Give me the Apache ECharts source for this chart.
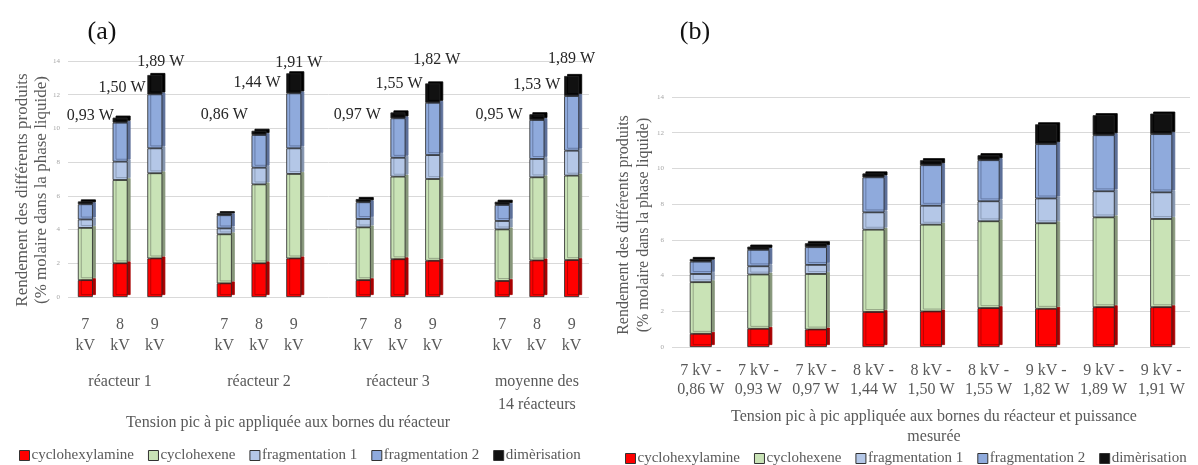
<!DOCTYPE html>
<html>
<head>
<meta charset="utf-8">
<script src="https://cdn.jsdelivr.net/npm/echarts@6/dist/echarts.min.js"></script>
<style>
html, body { margin: 0; padding: 0; background: #fff; }
#wrap { position: relative; width: 1198px; height: 465px; }
#chartA { position: absolute; left: 0; top: 0; width: 598px; height: 465px; }
#chartB { position: absolute; left: 598px; top: 0; width: 600px; height: 465px; }
</style>
</head>
<body>
<div id="wrap"><div id="chartA"></div><div id="chartB"></div></div>
<script>
var produits = ['cyclohexylamine', 'cyclohexene', 'fragmentation 1', 'fragmentation 2', 'dimèrisation'];

// (a) 4 groupes de 3 tensions, une case vide entre les groupes
var kvA = ['7\nkV', '8\nkV', '9\nkV', '', '7\nkV', '8\nkV', '9\nkV', '', '7\nkV', '8\nkV', '9\nkV', '', '7\nkV', '8\nkV', '9\nkV'];
var groupesA = ['', 'réacteur 1', '', '', '', 'réacteur 2', '', '', '', 'réacteur 3', '', '', '', 'moyenne des\n14 réacteurs', ''];
var amineA = [1.00, 2.00, 2.29, '-', 0.81, 2.00, 2.29, '-', 1.00, 2.24, 2.15, '-', 0.95, 2.17, 2.19];
var hexeneA = [3.10, 4.94, 5.05, '-', 2.91, 4.68, 5.01, '-', 3.13, 4.90, 4.85, '-', 3.06, 4.93, 5.01];
var frag1A = [0.50, 1.09, 1.48, '-', 0.35, 0.99, 1.52, '-', 0.50, 1.12, 1.42, '-', 0.50, 1.09, 1.48];
var frag2A = [0.90, 2.31, 3.20, '-', 0.78, 1.94, 3.26, '-', 0.99, 2.34, 3.10, '-', 0.95, 2.31, 3.24];
var dimA = [0.17, 0.30, 1.15, '-', 0.12, 0.25, 1.19, '-', 0.19, 0.35, 1.15, '-', 0.19, 0.34, 1.19];
var puissanceA = ['0,93 W', '1,50 W', '1,89 W', '', '0,86 W', '1,44 W', '1,91 W', '', '0,97 W', '1,55 W', '1,82 W', '', '0,95 W', '1,53 W', '1,89 W'];

// (b) classé par puissance mesurée
var tensionB = ['7 kV', '7 kV', '7 kV', '8 kV', '8 kV', '8 kV', '9 kV', '9 kV', '9 kV'];
var puissanceB = ['0,86 W', '0,93 W', '0,97 W', '1,44 W', '1,50 W', '1,55 W', '1,82 W', '1,89 W', '1,91 W'];
var amineB = [0.74, 1.02, 0.98, 1.96, 1.99, 2.18, 2.14, 2.23, 2.23];
var hexeneB = [2.89, 3.04, 3.11, 4.61, 4.86, 4.86, 4.79, 5.03, 4.94];
var frag1B = [0.46, 0.46, 0.51, 0.97, 1.06, 1.12, 1.39, 1.46, 1.49];
var frag2B = [0.69, 0.92, 0.99, 1.96, 2.27, 2.30, 3.04, 3.14, 3.26];
var dimB = [0.15, 0.18, 0.22, 0.22, 0.28, 0.28, 1.11, 1.12, 1.15];

var couleurs = ['#ff0000', '#c9e3b6', '#b4c7e7', '#8faadc', '#111111'];
var cotes = ['#a80000', '#86967a', '#8393ad', '#5d7099', '#000000']; // face latérale (effet 3D)
// décalage des étiquettes "W" par rapport au haut des barres (px)
var decalage = [[5, -74], [2, -18], [6, -1], null, [0, -86], [-2, -36], [5, 1], null, [-6, -72], [1, -17], [4, -12], null, [-3, -75], [0, -17], [0, -5]];

var police = '"Liberation Serif", "Times New Roman", serif';
var gris = '#595959';

function series(datas, largeur) {
   return datas.map(function (d, i) {
      return {
         name: produits[i],
         type: 'bar',
         stack: 'total',
         barWidth: largeur,
         data: d,
         itemStyle: {
            color: couleurs[i],
            borderColor: '#262626',
            borderWidth: 0.8,
            shadowColor: cotes[i],
            shadowBlur: 0,
            shadowOffsetX: 3,
            shadowOffsetY: -2
         }
      };
   });
}

function legende(left, top) {
   return {
      left: left,
      top: top,
      itemWidth: 10,
      itemHeight: 10,
      itemGap: 14,
      icon: 'rect',
      itemStyle: { borderColor: '#333', borderWidth: 1 },
      textStyle: { fontFamily: police, fontSize: 15, color: gris, padding: [0, 0, 0, -3] },
      data: produits
   };
}

function axeY() {
   return {
      type: 'value',
      min: 0,
      max: 14,
      interval: 2,
      axisLine: { show: false },
      axisTick: { show: false },
      axisLabel: { fontFamily: police, fontSize: 7, color: '#a6a6a6', margin: 8 },
      splitLine: { lineStyle: { color: '#d9d9d9', width: 1 } }
   };
}

//------------------------------------------ (a)
var serA = series([amineA, hexeneA, frag1A, frag2A, dimA], 15);
serA[4].data = dimA.map(function (v, k) {
   if (v === '-') return v;
   return {
      value: v,
      label: {
         show: true,
         position: 'top',
         distance: 4,
         formatter: puissanceA[k],
         offset: decalage[k],
         fontFamily: police,
         fontSize: 16,
         color: '#262626'
      }
   };
});

var oA = echarts.init(document.getElementById('chartA'));
oA.setOption({
   animation: false,
   grid: { left: 68, right: 9, top: 61, bottom: 168 },
   legend: legende(14, 443),
   xAxis: [{
      type: 'category',
      data: kvA,
      axisLine: { show: false },
      axisTick: { show: false },
      axisLabel: { interval: 0, fontFamily: police, fontSize: 16, color: gris, lineHeight: 21, margin: 17 }
   }, {
      type: 'category',
      data: groupesA,
      position: 'bottom',
      axisLine: { show: false },
      axisTick: { show: false },
      axisLabel: { interval: 0, fontFamily: police, fontSize: 16, color: gris, lineHeight: 23, margin: 73 }
   }],
   yAxis: axeY(),
   graphic: [
      { type: 'text', x: 102, y: 32, style: { text: '(a)', font: '26px ' + police, fill: '#111', textAlign: 'center', textVerticalAlign: 'middle' } },
      { type: 'text', x: 32, y: 190, rotation: Math.PI / 2, style: { text: 'Rendement des différents produits\n(% molaire dans la phase liquide)', font: '17px ' + police, fill: gris, textAlign: 'center', textVerticalAlign: 'middle', lineHeight: 19 } },
      { type: 'text', x: 288, y: 423, style: { text: 'Tension pic à pic appliquée aux bornes du réacteur', font: '16px ' + police, fill: gris, textAlign: 'center', textVerticalAlign: 'middle' } }
   ],
   series: serA
});

//------------------------------------------ (b)
var catB = tensionB.map(function (t, k) { return t + ' -\n' + puissanceB[k]; });
var oB = echarts.init(document.getElementById('chartB'));
oB.setOption({
   animation: false,
   grid: { left: 74, right: 8, top: 97, bottom: 118 },
   legend: legende(22, 446),
   xAxis: {
      type: 'category',
      data: catB,
      axisLine: { show: false },
      axisTick: { show: false },
      axisLabel: { interval: 0, fontFamily: police, fontSize: 16, color: gris, lineHeight: 19, margin: 14 }
   },
   yAxis: axeY(),
   graphic: [
      { type: 'text', x: 97, y: 32, style: { text: '(b)', font: '26px ' + police, fill: '#111', textAlign: 'center', textVerticalAlign: 'middle' } },
      { type: 'text', x: 36, y: 225, rotation: Math.PI / 2, style: { text: 'Rendement des différents produits\n(% molaire dans la phase liquide)', font: '16px ' + police, fill: gris, textAlign: 'center', textVerticalAlign: 'middle', lineHeight: 20 } },
      { type: 'text', x: 336, y: 427, style: { text: 'Tension pic à pic appliquée aux bornes du réacteur et puissance\nmesurée', font: '16px ' + police, fill: gris, textAlign: 'center', textVerticalAlign: 'middle', lineHeight: 20 } }
   ],
   series: series([amineB, hexeneB, frag1B, frag2B, dimB], 22)
});
</script>
</body>
</html>
